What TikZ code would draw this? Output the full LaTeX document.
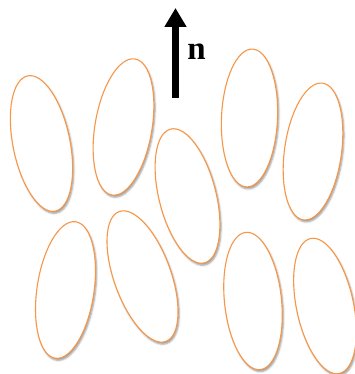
\documentclass[tikz,border=0pt]{standalone}
\usepackage{fontspec}
\setmainfont{Liberation Serif}
\usetikzlibrary{shapes.geometric,arrows.meta,shadows.blur}
\definecolor{cellorange}{HTML}{F79646}
\tikzset{
  cell/.style={ellipse, draw=cellorange, line width=1.1pt, fill=white,
    minimum width=57pt, minimum height=138pt, inner sep=0pt,
    blur shadow={shadow xshift=1.2pt, shadow yshift=-2pt, shadow blur radius=1.8pt, shadow opacity=40}},
  normalarrow/.style={line width=6.5pt, -{Triangle[length=19pt,width=21pt]}}
}
\begin{document}
\begin{tikzpicture}[x=1pt,y=1pt]
\useasboundingbox (0,0) rectangle (355,-374);
\node[cell, rotate=11.5] (e1) at (41.5,-143.5) {};
\node[cell, rotate=-9.6] (e2) at (123.5,-127) {};
\node[cell, rotate=14.2] (e3) at (187.5,-196) {};
\node[cell, rotate=-2.5, minimum width=56pt] (e4) at (249.5,-118) {};
\node[cell, rotate=-8] (e5) at (313,-151.5) {};
\node[cell, rotate=-8.5] (e6) at (65.5,-290) {};
\node[cell, rotate=19.7] (e7) at (142.5,-276.5) {};
\node[cell, rotate=6] (e8) at (253,-301) {};
\node[cell, rotate=12] (e9) at (325,-306) {};
\coordinate (nbase) at (175.5,-98);
\coordinate (ntip) at (175.5,-8);
\draw[normalarrow] (nbase) -- (ntip);
\node[font=\fontsize{33}{36}\selectfont\bfseries, inner sep=0pt] (nlabel) at (196.5,-52) {n};
\end{tikzpicture}
\end{document}
